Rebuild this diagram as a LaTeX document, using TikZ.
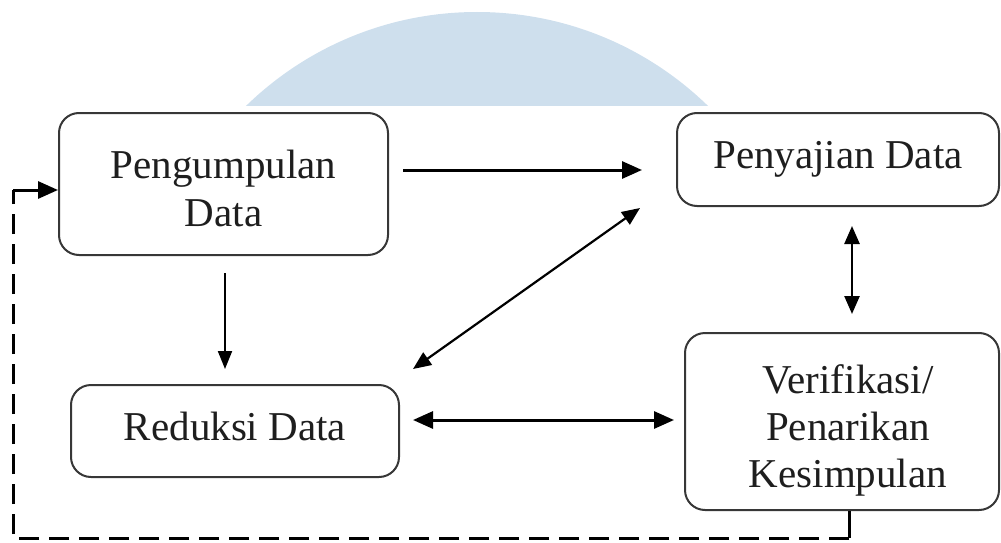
\documentclass[tikz,border=0pt]{standalone}
\usepackage{fontspec}
\setmainfont{Liberation Serif}
\newfontfamily\tnr{Liberation Serif}
\usetikzlibrary{arrows.meta}
\definecolor{wmblue}{RGB}{206,223,237}
\definecolor{boxline}{RGB}{55,55,55}
\definecolor{txtcol}{RGB}{30,30,30}
\begin{document}
\begin{tikzpicture}[x=1pt,y=-1pt,
  box/.style={draw=boxline, line width=2pt, rounded corners=20pt, align=center, text=txtcol, inner sep=0pt, font=\tnr\fontsize{41}{48}\selectfont},
  arr/.style={-{Triangle[length=20pt,width=17pt]}, line width=3pt},
  thinarr/.style={-{Triangle[length=18pt,width=14pt]}, line width=2pt},
  darr/.style={{Triangle[length=20pt,width=17pt]}-{Triangle[length=20pt,width=17pt]}, line width=3pt},
  thindarr/.style={{Triangle[length=18pt,width=15pt]}-{Triangle[length=18pt,width=15pt]}, line width=2.2pt},
  fb/.style={line width=3pt, dash pattern=on 20pt off 10pt}]
\useasboundingbox (0,0) rectangle (1001,543);
\begin{scope}
\clip (0,0) rectangle (1001,105);
\fill[wmblue] (477,343) circle[radius=331pt];
\end{scope}
% boxes
\node[box, minimum width=329pt, minimum height=142pt] (peng) at (223.5,184) {\rule{0pt}{38pt}Pengumpulan\\Data};
\node[box, minimum width=322pt, minimum height=93pt] (peny) at (838,159.5) {Penyajian Data};
\node[box, minimum width=314pt, minimum height=177pt, font=\tnr\fontsize{41}{47}\selectfont] (verif) at (842,421.5) {\rule{0pt}{47pt}\hspace*{12pt}Verifikasi/\\\hspace*{12pt}Penarikan\\\hspace*{12pt}Kesimpulan};
\node[box, minimum width=328pt, minimum height=92pt] (red) at (235,431) {\rule[-9pt]{0pt}{9pt}Reduksi Data};
% connectors
\draw[arr, shorten <=14pt, shorten >=34pt] ([yshift=14pt]peng.east) -- ([yshift=-10.5pt]peny.west);
\draw[thinarr, shorten <=17pt, shorten >=15pt] ([xshift=1.5pt]peng.south) -- ([xshift=-10pt]red.north);
\draw[thindarr] ([xshift=-36pt,yshift=-1pt]peny.south west) -- ([xshift=13pt,yshift=15pt]red.north east);
\draw[thindarr, line width=2.5pt, shorten <=19pt, shorten >=18pt] ([xshift=14pt]peny.south) -- ([xshift=10pt]verif.north);
\draw[darr, shorten <=13pt, shorten >=10pt] ([yshift=11pt]red.east) -- ([yshift=1.5pt]verif.west);
% feedback loop
\coordinate (c1) at (849,538);
\coordinate (c2) at (13,538);
\coordinate (c3) at (13,190);
\draw[line width=3pt] ([xshift=7pt]verif.south) -- (c1);
\draw[fb] (c1) -- (c2) -- (c3);
\draw[arr] (c3) -- ([yshift=-6pt]peng.west);
\end{tikzpicture}
\end{document}
